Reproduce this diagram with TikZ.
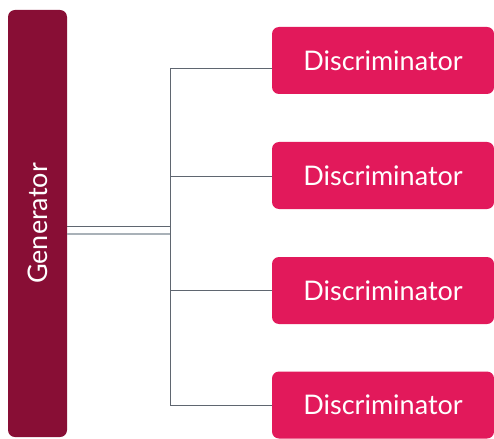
\documentclass[tikz,border=0pt]{standalone}
\usepackage{fontspec}
\setmainfont{Lato}
\definecolor{genred}{HTML}{880E35}
\definecolor{discred}{HTML}{E2195B}
\definecolor{linegray}{HTML}{5F6670}
\definecolor{lightline}{HTML}{A9B1B8}
\begin{document}
\begin{tikzpicture}[x=1pt,y=-1pt,
  genbox/.style={fill=genred, rounded corners=7pt, minimum width=427pt, minimum height=59pt, inner sep=0pt, text=white, font=\fontsize{27}{32}\selectfont, rotate=90},
  discbox/.style={fill=discred, rounded corners=7pt, minimum width=222pt, minimum height=67pt, inner sep=0pt, text=white, font=\fontsize{27}{32}\selectfont},
  conn/.style={draw=linegray, line width=0.8pt}
]
\useasboundingbox (0,0) rectangle (494,438);
\node[genbox] (gen) at (37.5,223.5) {Generator};
\node[discbox] (d1) at (383,60.5) {Discriminator};
\node[discbox] (d2) at (383,175.5) {Discriminator};
\node[discbox] (d3) at (383,290.5) {Discriminator};
\node[discbox] (d4) at (383,405) {Discriminator};
\coordinate (j1) at (170,68);
\coordinate (j2) at (170,176);
\coordinate (j3) at (170,290);
\coordinate (j4) at (170,405);
\coordinate (ga) at (170,226);
\coordinate (gb) at (170,234);
\draw[conn] (j1) -- (j4);
\draw[conn] (j1) -- (d1.west |- j1);
\draw[conn] (j2) -- (d2.west |- j2);
\draw[conn] (j3) -- (d3.west |- j3);
\draw[conn] (j4) -- (d4.west |- j4);
\draw[conn] (gen.south |- ga) -- (ga);
\draw[draw=lightline, line width=1.5pt] (gen.south |- gb) -- (gb);
\end{tikzpicture}
\end{document}
